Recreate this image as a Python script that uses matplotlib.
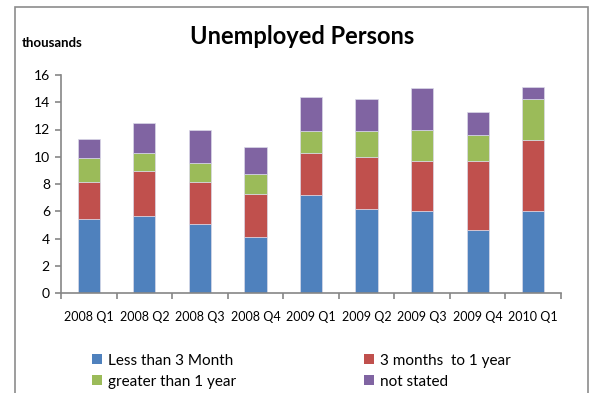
import matplotlib
matplotlib.use("Agg")
import matplotlib.pyplot as plt
from matplotlib.patches import Rectangle, Patch
import numpy as np

quarters = ["2008 Q1", "2008 Q2", "2008 Q3", "2008 Q4", "2009 Q1",
            "2009 Q2", "2009 Q3", "2009 Q4", "2010 Q1"]
less_than_3m = [5.42, 5.67, 5.10, 4.08, 7.18, 6.16, 6.01, 4.64, 6.01]
three_m_to_1y = [2.71, 3.25, 3.08, 3.15, 3.13, 3.81, 3.71, 5.08, 5.25]
over_1y = [1.79, 1.36, 1.39, 1.49, 1.59, 1.93, 2.25, 1.86, 2.96]
not_stated = [1.41, 2.20, 2.40, 1.98, 2.49, 2.32, 3.05, 1.68, 0.88]

series = [
    ("Less than 3 Month", less_than_3m, "#4F81BD"),
    ("3 months  to 1 year", three_m_to_1y, "#C0504D"),
    ("greater than 1 year", over_1y, "#9BBB59"),
    ("not stated", not_stated, "#8064A2"),
]

plt.rcParams["font.family"] = ["Lato", "DejaVu Sans"]

W, H = 591, 393
fig = plt.figure(figsize=(W / 100, H / 100), dpi=100)
fig.patch.set_facecolor("white")

# chart frame
fig.patches.append(Rectangle((15 / W, -0.05), (588 - 15) / W, 1.05 - 7 / H,
                             transform=fig.transFigure, fill=False,
                             edgecolor="#8C8C8C", linewidth=1.2))

ax = fig.add_axes([61 / W, 1 - 293 / H, (561 - 61) / W, (293 - 75) / H])
x = np.arange(len(quarters))
bottom = np.zeros(len(quarters))
handles = []
for label, vals, color in series:
    ax.bar(x, vals, width=0.4, bottom=bottom, color=color,
           edgecolor="#D9D9E8", linewidth=0.5)
    bottom += np.array(vals)
    handles.append(Patch(facecolor=color, edgecolor="none", label=label))

ax.set_xlim(-0.5, len(quarters) - 0.5)
ax.set_ylim(0, 16)
ax.set_yticks(range(0, 17, 2))
ax.set_xticks(x)
ax.set_xticklabels(quarters, fontsize=9)
ax.set_xticks(np.arange(-0.5, len(quarters), 1), minor=True)
ax.tick_params(axis="x", which="major", length=0, pad=13)
ax.tick_params(axis="x", which="minor", length=4, color="#868686", width=1.2,
               direction="out")
ax.tick_params(axis="y", length=4, color="#868686", width=1.2, labelsize=10,
               pad=4)
for s in ["top", "right"]:
    ax.spines[s].set_visible(False)
for s in ["left", "bottom"]:
    ax.spines[s].set_color("#868686")
    ax.spines[s].set_linewidth(1.2)

fig.text(302 / W, 1 - 36 / H, "Unemployed Persons", ha="center", va="center",
         fontsize=17, fontweight="bold")
fig.text(22 / W, 1 - 43 / H, "thousands", ha="left", va="center",
         fontsize=9.5, fontweight="bold")

order = [handles[0], handles[2], handles[1], handles[3]]
fig.legend(handles=order, labels=[h.get_label() for h in order], ncol=2,
           loc="upper left", bbox_to_anchor=(78 / W, 1 - 340 / H),
           frameon=False, fontsize=11, handlelength=0.65, handleheight=0.65,
           handletextpad=0.4, columnspacing=8.4, labelspacing=0.45)

fig.savefig("out.png", dpi=100)
